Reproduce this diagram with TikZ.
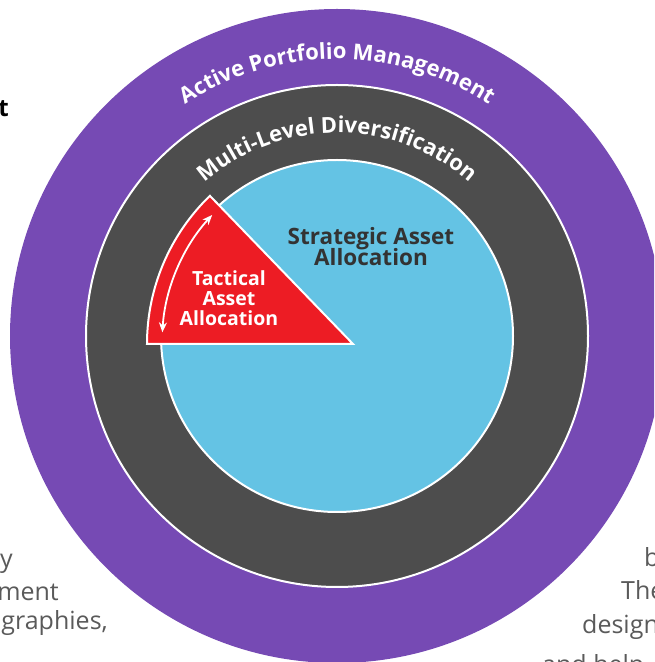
\documentclass[tikz,border=0pt]{standalone}
\usepackage{fontspec}
\setmainfont{Open Sans}
\usetikzlibrary{decorations.text,arrows.meta}
\definecolor{ringpurple}{HTML}{764AB4}
\definecolor{ringgray}{HTML}{4D4D4D}
\definecolor{coreblue}{HTML}{64C3E4}
\definecolor{wedgered}{HTML}{ED1C24}
\definecolor{labeldark}{HTML}{333333}
\definecolor{pagegray}{HTML}{5A5A5A}
\newcommand\arcfont{\fontsize{22}{22}\selectfont\bfseries}
\newcommand\tightlines{\lineskiplimit=-20pt\relax}
\tikzset{
  ring/.style={draw=white, line width=2pt},
  pagetext/.style={inner sep=0pt, text=pagegray, font=\fontsize{25}{30}\selectfont},
  arctext/.style={decorate, decoration={text along path, text align=center, text color=white, text={|\arcfont|#1}}},
  twoarrow/.style={draw=white, line width=1.8pt, {Stealth[length=10pt,width=8pt]}-{Stealth[length=10pt,width=8pt]}}
}
\begin{document}
\begin{tikzpicture}[x=1pt,y=1pt]
\useasboundingbox (0,0) rectangle (654,662);
\clip (0,0) rectangle (654,662);
\coordinate (C) at (337,326);
\coordinate (S) at (353,318);
% rings
\fill[ringpurple] (C) circle[radius=327pt];
\filldraw[ring, fill=ringgray] (C) circle[radius=251pt];
\filldraw[ring, fill=coreblue] (C) circle[radius=176pt];
% wedge
\filldraw[ring, fill=wedgered, line join=miter] (S) -- ([shift={(180:206pt)}]S) arc[start angle=180, end angle=134, radius=206pt] -- cycle;
\draw[twoarrow] ([shift={(176.5:191pt)}]S) arc[start angle=176.5, end angle=137.5, radius=191pt];
% arc labels
\path[arctext={Active Portfolio Management}] ([shift={(150:277pt)}]C) arc[start angle=150, end angle=30, radius=277pt];
\path[arctext={Multi-Level Diversification}] ([shift={(150:203pt)}]C) arc[start angle=150, end angle=30, radius=203pt];
% inner labels
\node[inner sep=0pt, text=labeldark, font={\fontsize{22.5}{20.5}\selectfont\bfseries\tightlines}, align=center, anchor=base] (saa) at (371,396.5) {Strategic Asset\\Allocation};
\node[inner sep=0pt, text=white, font={\fontsize{19.5}{20}\selectfont\bfseries\tightlines}, align=center, anchor=base] (taa) at (229,336.3) {Tactical\\Asset\\Allocation};
% page text cut by the frame
\node[inner sep=0pt, anchor=base east, font=\fontsize{24}{30}\selectfont\bfseries] (tl) at (9,545) {t};
\node[pagetext, anchor=base east] (l1) at (13,94) {y};
\node[pagetext, anchor=base east] (l2) at (59,61) {ment};
\node[pagetext, anchor=base east] (l3) at (108,32) {ographies,};
\node[pagetext, anchor=base west] (r1) at (644,95) {b};
\node[pagetext, anchor=base west] (r2) at (621,62) {The};
\node[pagetext, anchor=base west] (r3) at (582,28) {design};
\node[pagetext, anchor=base west] (r4) at (542,-11) {and help};
\end{tikzpicture}
\end{document}
